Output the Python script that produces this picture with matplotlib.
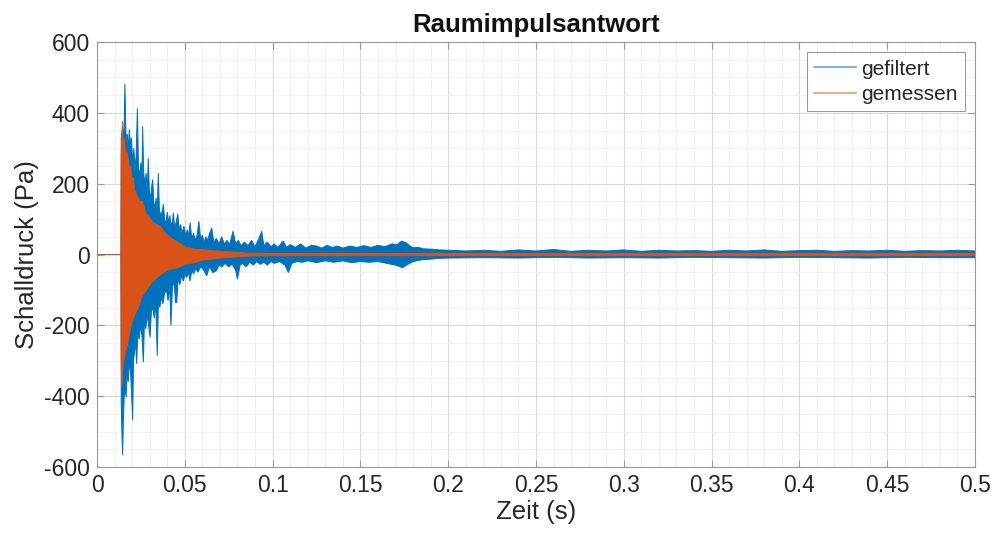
import numpy as np
import matplotlib
matplotlib.use("Agg")
import matplotlib.pyplot as plt
from matplotlib.lines import Line2D

plt.rcParams['font.family'] = ['Liberation Sans', 'DejaVu Sans']
plt.rcParams['axes.unicode_minus'] = False

# ---- data: envelopes (time in s, pressure in Pa) ----
blue_up_t = [0.0, 0.0136, 0.0138, 0.0146, 0.0152, 0.0159, 0.0165, 0.0172, 0.0178, 0.0184, 0.0190, 0.0196,
             0.0203, 0.0210, 0.0216, 0.0223, 0.0230, 0.0236, 0.0243, 0.0250, 0.0256, 0.0260, 0.0266,
             0.0272, 0.0280, 0.0286, 0.0292, 0.0298, 0.0305, 0.0311, 0.0317, 0.0323, 0.0330, 0.0337,
             0.0343, 0.0349, 0.0355, 0.0362, 0.0370, 0.0378, 0.0385, 0.0392, 0.0400, 0.0408, 0.0415,
             0.0422, 0.0430, 0.0435, 0.0442, 0.0450, 0.0460, 0.0468, 0.0476, 0.0485, 0.0495, 0.0505,
             0.0515, 0.0522, 0.0530, 0.0540, 0.0550, 0.0560, 0.0570, 0.0580, 0.0590, 0.0600, 0.0610,
             0.0620, 0.0630, 0.0640, 0.0653, 0.0665, 0.0680, 0.0695, 0.0710, 0.0725, 0.0740, 0.0755,
             0.0775, 0.0790, 0.0805, 0.0820, 0.0840, 0.0860, 0.0880, 0.0900, 0.0920, 0.0938, 0.0950,
             0.0970, 0.0990, 0.1010, 0.1030, 0.1060, 0.1080, 0.1100, 0.1130, 0.1160, 0.1190, 0.1220,
             0.1250, 0.1280, 0.1310, 0.1340, 0.1370, 0.1400, 0.1440, 0.1480, 0.1520, 0.1560, 0.1600,
             0.1640, 0.1680, 0.1710, 0.1735, 0.1760, 0.1780, 0.1800, 0.1830, 0.1860, 0.1910, 0.1950,
             0.2010, 0.2100, 0.2200, 0.2300, 0.2400, 0.2500, 0.2600, 0.2700, 0.2800, 0.2900, 0.3000,
             0.3100, 0.3200, 0.3300, 0.3400, 0.3500, 0.3600, 0.3700, 0.3800, 0.3900, 0.4000, 0.4100,
             0.4200, 0.4300, 0.4400, 0.4500, 0.4600, 0.4700, 0.4800, 0.4900, 0.5000]
blue_up_v = [0, 0, 330, 362, 300, 481, 330, 340, 300, 353, 310, 330,
             260, 300, 240, 280, 413, 250, 220, 260, 210, 362, 230,
             200, 230, 170, 272, 180, 160, 190, 212, 150, 130, 160,
             120, 230, 130, 110, 120, 142, 100, 85, 120, 90, 110,
             80, 95, 118, 75, 90, 115, 70, 85, 60, 80, 55,
             70, 50, 90, 45, 60, 40, 55, 94, 45, 55, 35,
             50, 40, 58, 75, 35, 45, 30, 50, 30, 40, 28,
             66, 30, 40, 25, 35, 25, 40, 22, 43, 66, 25,
             35, 22, 30, 20, 38, 20, 28, 20, 30, 18, 26,
             24, 18, 26, 20, 24, 18, 24, 20, 25, 20, 26,
             22, 30, 28, 38, 33, 25, 19, 20, 16, 15, 13,
             12, 10, 12, 9, 13, 10, 14, 9, 12, 10, 13,
             9, 12, 10, 11, 9, 12, 10, 13, 9, 11, 12,
             9, 11, 10, 12, 9, 11, 10, 12, 10]

blue_lo_t = [0.0, 0.0136, 0.0138, 0.0142, 0.0146, 0.0150, 0.0155, 0.0160, 0.0166, 0.0172, 0.0178, 0.0185,
             0.0192, 0.0203, 0.0208, 0.0215, 0.0220, 0.0226, 0.0232, 0.0240, 0.0248, 0.0256, 0.0264,
             0.0270, 0.0278, 0.0286, 0.0294, 0.0302, 0.0310, 0.0318, 0.0326, 0.0335, 0.0343, 0.0350,
             0.0358, 0.0366, 0.0375, 0.0385, 0.0395, 0.0405, 0.0414, 0.0421, 0.0430, 0.0440, 0.0447,
             0.0454, 0.0462, 0.0472, 0.0482, 0.0492, 0.0502, 0.0512, 0.0522, 0.0530, 0.0540, 0.0550,
             0.0562, 0.0575, 0.0590, 0.0605, 0.0625, 0.0640, 0.0660, 0.0680, 0.0695, 0.0710, 0.0730,
             0.0750, 0.0770, 0.0790, 0.0800, 0.0815, 0.0830, 0.0850, 0.0870, 0.0890, 0.0910, 0.0930,
             0.0950, 0.0970, 0.0990, 0.1010, 0.1040, 0.1070, 0.1090, 0.1110, 0.1140, 0.1170, 0.1200,
             0.1250, 0.1300, 0.1350, 0.1400, 0.1450, 0.1500, 0.1550, 0.1600, 0.1650, 0.1700, 0.1740,
             0.1770, 0.1800, 0.1850, 0.1880, 0.1950, 0.2010, 0.2200, 0.2400, 0.2600, 0.2800, 0.3000,
             0.3200, 0.3400, 0.3600, 0.3800, 0.4000, 0.4200, 0.4400, 0.4600, 0.4800, 0.5000]
blue_lo_v = [0, 0, -420, -511, -567, -470, -400, -380, -403, -330, -360, -300,
             -340, -468, -300, -270, -250, -309, -220, -240, -200, -230, -304,
             -190, -210, -170, -200, -234, -160, -150, -180, -140, -286, -130,
             -150, -120, -140, -110, -100, -130, -90, -201, -90, -80, -136,
             -136, -70, -85, -60, -75, -55, -65, -50, -75, -45, -55,
             -40, -50, -35, -42, -60, -35, -51, -46, -30, -35, -25,
             -35, -28, -45, -70, -30, -25, -35, -22, -30, -20, -28,
             -22, -30, -20, -25, -20, -30, -51, -25, -20, -22, -18,
             -23, -18, -22, -18, -23, -20, -22, -20, -25, -30, -37,
             -28, -20, -15, -14, -11, -10, -9, -10, -8, -10, -9,
             -10, -8, -9, -10, -8, -9, -10, -8, -9, -9]

orange_up_t = [0.0, 0.0136, 0.0138, 0.0145, 0.0150, 0.0156, 0.0162, 0.0170, 0.0178, 0.0185, 0.0192,
               0.0200, 0.0207, 0.0215, 0.0225, 0.0235, 0.0245, 0.0260, 0.0275, 0.0290, 0.0305, 0.0320,
               0.0340, 0.0360, 0.0380, 0.0400, 0.0425, 0.0450, 0.0475, 0.0500, 0.0530, 0.0555, 0.0590,
               0.0630, 0.0680, 0.0730, 0.0800, 0.0850, 0.0950, 0.2000, 0.3000, 0.4000, 0.5000]
orange_up_v = [0, 0, 280, 376, 300, 330, 280, 290, 272, 240, 250,
               210, 216, 180, 170, 160, 150, 150, 120, 110, 100, 90,
               85, 80, 65, 55, 45, 38, 30, 22, 18, 15, 14,
               12, 10, 8, 6, 4, 3, 3, 3, 3, 3]
orange_lo_t = [0.0, 0.0136, 0.0138, 0.0141, 0.0146, 0.0152, 0.0160, 0.0170, 0.0178, 0.0190, 0.0200,
               0.0215, 0.0235, 0.0255, 0.0275, 0.0292, 0.0310, 0.0335, 0.0368, 0.0400, 0.0430, 0.0460,
               0.0500, 0.0555, 0.0600, 0.0650, 0.0700, 0.0750, 0.0800, 0.0900, 0.1000, 0.2000, 0.3000,
               0.4000, 0.5000]
orange_lo_v = [0, 0, -300, -375, -330, -300, -280, -260, -243, -210, -190,
               -170, -150, -120, -105, -93, -80, -68, -55, -45, -40, -37,
               -28, -23, -16, -13, -10, -8, -6, -4, -3, -3, -3,
               -3, -3]

series_labels = ['gefiltert', 'gemessen']
blue = '#0072BD'
orange = '#D95319'

xticks = [0, 0.05, 0.1, 0.15, 0.2, 0.25, 0.3, 0.35, 0.4, 0.45, 0.5]
xticklabels = ['0', '0.05', '0.1', '0.15', '0.2', '0.25', '0.3', '0.35', '0.4', '0.45', '0.5']
yticks = [-600, -400, -200, 0, 200, 400, 600]

fig = plt.figure(figsize=(9.97, 5.40), dpi=100)
ax = fig.add_axes([0.0973, 0.1352, 0.8806, 0.787])

def band(tu, vu, tl, vl, color, z):
    xs = np.concatenate([np.asarray(tu), np.asarray(tl)[::-1]])
    ys = np.concatenate([np.asarray(vu), np.asarray(vl)[::-1]])
    ax.fill(xs, ys, facecolor=color, edgecolor=color, linewidth=0.7, zorder=z)

band(blue_up_t, blue_up_v, blue_lo_t, blue_lo_v, blue, 2)
band(orange_up_t, orange_up_v, orange_lo_t, orange_lo_v, orange, 3)

ax.set_xlim(0, 0.5)
ax.set_ylim(-600, 600)
ax.set_xticks(xticks)
ax.set_xticklabels(xticklabels)
ax.set_yticks(yticks)
ax.set_xticks(np.arange(0, 0.5001, 0.01), minor=True)
ax.set_yticks(np.arange(-600, 601, 50), minor=True)
ax.grid(True, which='major', color='#d9d9d9', linewidth=0.8, zorder=0)
ax.grid(True, which='minor', color='#efefef', linewidth=0.6, zorder=0)
ax.set_axisbelow(True)

ax.tick_params(which='major', direction='in', length=5, width=0.8, top=True, right=True,
               labelsize=16.5, colors='#9a9a9a', labelcolor='#262626', pad=5)
ax.tick_params(which='minor', length=0, top=False, right=False)
for s in ax.spines.values():
    s.set_color('#9a9a9a')
    s.set_linewidth(0.8)

ax.set_title('Raumimpulsantwort', fontsize=18.5, fontweight='bold', color='#111111', pad=7)
ax.set_xlabel('Zeit (s)', fontsize=18.5, color='#262626', labelpad=2)
ax.set_ylabel('Schalldruck (Pa)', fontsize=18.5, color='#262626', labelpad=4)

handles = [Line2D([], [], color=blue, linewidth=1.2, alpha=0.6),
           Line2D([], [], color=orange, linewidth=1.2, alpha=0.6)]
leg = ax.legend(handles, series_labels, loc='upper right', fontsize=15, frameon=True,
                fancybox=False, edgecolor='#9a9a9a', framealpha=1, handlelength=2.0,
                handletextpad=0.25, borderpad=0.35, labelspacing=0.3, borderaxespad=0.5)
leg.get_frame().set_linewidth(0.8)
for t in leg.get_texts():
    t.set_color('#262626')

fig.savefig('out.png', dpi=100)
